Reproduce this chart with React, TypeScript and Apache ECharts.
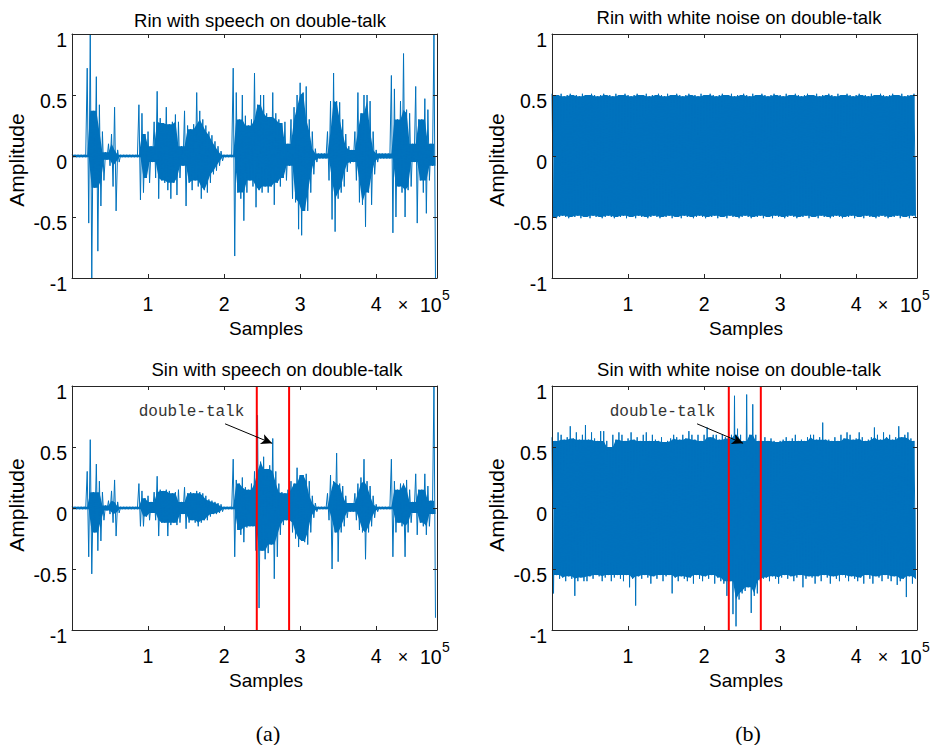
import React, { useEffect, useRef } from "react";
import * as echarts from "echarts";

// ---------- data (peak envelopes per 4000-sample bin) ----------
const BIN = 4000;
const X_MAX = 480000;
const X_INTERVAL = 100000;

const rinSpeechHi = [
  0.01, 0.01, 0.01, 0.01, 0.01, 0.72, 1.0, 0.37, 0.65, 0.42, 0.2, 0.03, 0.1, 0.18, 0.4, 0.05,
  0.01, 0.01, 0.01, 0.01, 0.01, 0.01, 0.42, 0.35, 0.18, 0.2, 0.08, 0.28, 0.53, 0.31, 0.27, 0.4,
  0.26, 0.28, 0.34, 0.28, 0.08, 0.37, 0.25, 0.22, 0.26, 0.52, 0.37, 0.3, 0.25, 0.2, 0.17, 0.12,
  0.08, 0.04, 0.01, 0.01, 0.01, 0.72, 0.52, 0.3, 0.5, 0.33, 0.25, 0.3, 0.68, 0.42, 0.5, 0.5,
  0.35, 0.32, 0.52, 0.35, 0.3, 0.27, 0.28, 0.1, 0.3, 0.4, 0.5, 0.6, 0.52, 0.57, 0.3, 0.2,
  0.06, 0.02, 0.02, 0.02, 0.2, 0.45, 0.68, 0.45, 0.44, 0.3, 0.18, 0.08, 0.05, 0.2, 0.52, 0.35,
  0.5, 0.5, 0.45, 0.2, 0.05, 0.02, 0.02, 0.02, 0.02, 0.66, 0.55, 0.3, 0.45, 0.84, 0.38, 0.35,
  0.1, 0.57, 0.3, 0.3, 0.47, 0.38, 0.1, 1.0,
];
const rinSpeechLo = [
  -0.01, -0.01, -0.01, -0.01, -0.01, -0.55, -1.0, -0.26, -0.78, -0.41, -0.2, -0.03, -0.08, -0.25, -0.45, -0.05,
  -0.01, -0.01, -0.01, -0.01, -0.01, -0.01, -0.36, -0.3, -0.18, -0.22, -0.05, -0.18, -0.35, -0.2, -0.22, -0.28,
  -0.35, -0.22, -0.32, -0.18, -0.08, -0.41, -0.22, -0.28, -0.2, -0.25, -0.35, -0.28, -0.3, -0.22, -0.15, -0.12,
  -0.08, -0.04, -0.01, -0.01, -0.01, -0.82, -0.3, -0.35, -0.53, -0.3, -0.2, -0.25, -0.42, -0.28, -0.3, -0.25,
  -0.3, -0.25, -0.4, -0.22, -0.25, -0.18, -0.2, -0.08, -0.35, -0.38, -0.6, -0.65, -0.45, -0.45, -0.3, -0.15,
  -0.05, -0.02, -0.02, -0.02, -0.2, -0.52, -0.62, -0.35, -0.3, -0.25, -0.13, -0.06, -0.05, -0.2, -0.38, -0.4,
  -0.58, -0.3, -0.4, -0.15, -0.05, -0.02, -0.02, -0.02, -0.02, -0.63, -0.5, -0.25, -0.3, -0.5, -0.28, -0.25,
  -0.05, -0.55, -0.2, -0.3, -0.47, -0.2, -0.08, -1.0,
];

const rinNoiseHi = [
  0.51, 0.5, 0.5, 0.51, 0.49, 0.5, 0.51, 0.5, 0.5, 0.49, 0.51, 0.5, 0.5, 0.51, 0.5, 0.49,
  0.5, 0.51, 0.5, 0.5, 0.49, 0.51, 0.5, 0.5, 0.51, 0.5, 0.49, 0.5, 0.51, 0.5, 0.5, 0.51,
  0.49, 0.5, 0.5, 0.51, 0.5, 0.49, 0.51, 0.5, 0.5, 0.51, 0.5, 0.49, 0.5, 0.51, 0.5, 0.5,
  0.49, 0.51, 0.5, 0.5, 0.51, 0.5, 0.49, 0.5, 0.51, 0.5, 0.5, 0.51, 0.49, 0.5, 0.5, 0.51,
  0.5, 0.49, 0.51, 0.5, 0.5, 0.51, 0.5, 0.49, 0.5, 0.51, 0.5, 0.5, 0.49, 0.51, 0.5, 0.5,
  0.51, 0.5, 0.49, 0.5, 0.51, 0.5, 0.5, 0.51, 0.49, 0.5, 0.5, 0.51, 0.5, 0.49, 0.51, 0.5,
  0.5, 0.51, 0.5, 0.49, 0.5, 0.51, 0.5, 0.5, 0.49, 0.51, 0.5, 0.5, 0.51, 0.5, 0.49, 0.5,
  0.51, 0.5, 0.5, 0.51, 0.49, 0.5, 0.5, 0.51,
];
const rinNoiseLo = [
  -0.5, -0.51, -0.5, -0.49, -0.5, -0.51, -0.5, -0.5, -0.49, -0.51, -0.5, -0.5, -0.51, -0.49, -0.5, -0.5,
  -0.51, -0.5, -0.49, -0.5, -0.51, -0.5, -0.5, -0.49, -0.51, -0.5, -0.5, -0.51, -0.49, -0.5, -0.5, -0.51,
  -0.5, -0.49, -0.5, -0.51, -0.5, -0.5, -0.49, -0.51, -0.5, -0.5, -0.51, -0.49, -0.5, -0.5, -0.51, -0.5,
  -0.49, -0.5, -0.51, -0.5, -0.5, -0.49, -0.51, -0.5, -0.5, -0.51, -0.49, -0.5, -0.5, -0.51, -0.5, -0.49,
  -0.5, -0.51, -0.5, -0.5, -0.49, -0.51, -0.5, -0.5, -0.51, -0.49, -0.5, -0.5, -0.51, -0.5, -0.49, -0.5,
  -0.51, -0.5, -0.5, -0.49, -0.51, -0.5, -0.5, -0.51, -0.49, -0.5, -0.5, -0.51, -0.5, -0.49, -0.5, -0.51,
  -0.5, -0.5, -0.49, -0.51, -0.5, -0.5, -0.51, -0.49, -0.5, -0.5, -0.51, -0.5, -0.49, -0.5, -0.51, -0.5,
  -0.5, -0.49, -0.51, -0.5, -0.5, -0.51, -0.49, -0.5,
];

const sinSpeechHi = [
  0.01, 0.01, 0.01, 0.01, 0.01, 0.3, 0.56, 0.13, 0.36, 0.22, 0.13, 0.02, 0.06, 0.14, 0.23, 0.05,
  0.01, 0.01, 0.01, 0.01, 0.01, 0.01, 0.2, 0.14, 0.08, 0.1, 0.05, 0.13, 0.26, 0.15, 0.14, 0.15,
  0.14, 0.12, 0.13, 0.15, 0.05, 0.17, 0.12, 0.13, 0.12, 0.14, 0.13, 0.12, 0.1, 0.07, 0.06, 0.05,
  0.04, 0.03, 0.01, 0.01, 0.01, 0.4, 0.23, 0.2, 0.25, 0.17, 0.15, 0.2, 0.3, 0.76, 0.38, 0.42,
  0.32, 0.35, 0.57, 0.3, 0.2, 0.13, 0.12, 0.15, 0.22, 0.2, 0.33, 0.27, 0.27, 0.28, 0.22, 0.1,
  0.04, 0.01, 0.01, 0.01, 0.12, 0.27, 0.22, 0.45, 0.2, 0.18, 0.1, 0.04, 0.04, 0.12, 0.2, 0.25,
  0.4, 0.22, 0.18, 0.1, 0.03, 0.01, 0.01, 0.01, 0.01, 0.4, 0.22, 0.15, 0.2, 0.2, 0.23, 0.15,
  0.05, 0.28, 0.15, 0.15, 0.28, 0.18, 0.06, 1.0,
];
const sinSpeechLo = [
  -0.01, -0.01, -0.01, -0.01, -0.01, -0.4, -0.54, -0.2, -0.35, -0.27, -0.1, -0.02, -0.05, -0.12, -0.23, -0.04,
  -0.01, -0.01, -0.01, -0.01, -0.01, -0.01, -0.15, -0.15, -0.07, -0.1, -0.04, -0.1, -0.23, -0.12, -0.12, -0.23,
  -0.14, -0.12, -0.14, -0.12, -0.05, -0.17, -0.12, -0.1, -0.12, -0.15, -0.12, -0.1, -0.1, -0.07, -0.05, -0.05,
  -0.04, -0.03, -0.01, -0.01, -0.01, -0.4, -0.18, -0.22, -0.28, -0.16, -0.15, -0.15, -0.35, -0.82, -0.35, -0.42,
  -0.37, -0.3, -0.58, -0.4, -0.22, -0.14, -0.1, -0.12, -0.2, -0.25, -0.32, -0.27, -0.28, -0.3, -0.2, -0.08,
  -0.03, -0.01, -0.01, -0.01, -0.1, -0.5, -0.2, -0.44, -0.2, -0.15, -0.08, -0.03, -0.03, -0.1, -0.18, -0.2,
  -0.42, -0.2, -0.15, -0.08, -0.03, -0.01, -0.01, -0.01, -0.01, -0.4, -0.2, -0.12, -0.15, -0.4, -0.2, -0.12,
  -0.04, -0.22, -0.12, -0.15, -0.22, -0.15, -0.05, -0.9,
];

const sinNoiseHi = [
  0.58, 0.55, 0.62, 0.6, 0.56, 0.58, 0.67, 0.57, 0.62, 0.56, 0.6, 0.68, 0.56, 0.62, 0.57, 0.55,
  0.63, 0.63, 0.55, 0.5, 0.6, 0.56, 0.62, 0.6, 0.55, 0.57, 0.62, 0.56, 0.58, 0.55, 0.6, 0.62,
  0.55, 0.6, 0.56, 0.55, 0.58, 0.54, 0.55, 0.57, 0.6, 0.58, 0.56, 0.6, 0.57, 0.63, 0.6, 0.56,
  0.6, 0.55, 0.6, 0.66, 0.58, 0.6, 0.6, 0.56, 0.6, 0.58, 0.57, 0.6, 0.92, 0.65, 0.6, 0.55,
  0.93, 0.6, 0.85, 0.6, 0.55, 0.55, 0.58, 0.55, 0.57, 0.55, 0.54, 0.55, 0.56, 0.58, 0.55, 0.57,
  0.6, 0.55, 0.56, 0.55, 0.58, 0.6, 0.6, 0.56, 0.58, 0.7, 0.56, 0.56, 0.55, 0.58, 0.55, 0.6,
  0.57, 0.62, 0.6, 0.56, 0.57, 0.62, 0.58, 0.55, 0.56, 0.58, 0.66, 0.6, 0.56, 0.62, 0.58, 0.6,
  0.56, 0.58, 0.67, 0.58, 0.6, 0.62, 0.57, 0.55,
];
const sinNoiseLo = [
  -0.7, -0.55, -0.58, -0.57, -0.6, -0.56, -0.58, -0.72, -0.6, -0.57, -0.6, -0.6, -0.56, -0.58, -0.55, -0.56,
  -0.6, -0.57, -0.55, -0.6, -0.57, -0.55, -0.58, -0.6, -0.55, -0.65, -0.58, -0.8, -0.56, -0.58, -0.55, -0.57,
  -0.62, -0.56, -0.58, -0.55, -0.6, -0.56, -0.55, -0.7, -0.57, -0.6, -0.56, -0.58, -0.6, -0.57, -0.62, -0.55,
  -0.58, -0.6, -0.56, -0.58, -0.55, -0.62, -0.57, -0.6, -0.62, -0.72, -0.6, -0.87, -0.97, -0.75, -0.7, -0.68,
  -0.65, -0.86, -0.72, -0.7, -0.6, -0.58, -0.57, -0.6, -0.56, -0.58, -0.62, -0.57, -0.55, -0.58, -0.56, -0.6,
  -0.57, -0.55, -0.65, -0.58, -0.56, -0.57, -0.62, -0.56, -0.6, -0.55, -0.57, -0.62, -0.56, -0.58, -0.6, -0.55,
  -0.57, -0.6, -0.56, -0.58, -0.6, -0.57, -0.62, -0.55, -0.58, -0.62, -0.56, -0.57, -0.6, -0.55, -0.58, -0.6,
  -0.56, -0.63, -0.6, -0.58, -0.73, -0.56, -0.62, -0.58,
];

// double-talk boundaries (samples)
const dtSpeech = [243000, 285500];
const dtNoise = [232500, 274600];
// annotation arrows: [startX, startY, endX, endY] in data units
const arrowSpeech = [201300, 0.69, 263200, 0.53];
const arrowNoise = [190800, 0.69, 251300, 0.53];

const titles = [
  "Rin with speech on double-talk",
  "Rin with white noise on double-talk",
  "Sin with speech on double-talk",
  "Sin with white noise on double-talk",
];

// ---------- layout ----------
const BLUE = "#0072BD";
const AXC = "#262626";
const FONT = '"Liberation Sans", Arial, Helvetica, sans-serif';
const GRIDS = [
  { left: 72, top: 34, width: 365, height: 244 },
  { left: 552, top: 34, width: 365, height: 244 },
  { left: 72, top: 386, width: 365, height: 244 },
  { left: 552, top: 386, width: 365, height: 244 },
];

// the trace itself: alternating positive/negative peaks of each bin
function zigzag(hi: number[], lo: number[]) {
  const out: [number, number][] = [];
  for (let i = 0; i < hi.length; i++) {
    out.push([i * BIN, hi[i]]);
    out.push([i * BIN + BIN / 2, lo[i]]);
  }
  return out;
}

// dense body of the trace: where neighbouring strokes overlap (smallest neighbouring peak)
function body(vals: number[], offset: number) {
  return vals.map((v, i) => {
    const a = vals[Math.max(0, i - 1)];
    const b = vals[Math.min(vals.length - 1, i + 1)];
    const m = v >= 0 ? Math.min(v, a, b) : Math.max(v, a, b);
    return [i * BIN + offset, m] as [number, number];
  });
}

function txt(x: number, y: number, text: string, size: number, extra: any = {}) {
  return {
    type: "text",
    x,
    y,
    silent: true,
    rotation: extra.rotation || 0,
    style: {
      text,
      fontSize: size,
      fontFamily: extra.fontFamily || FONT,
      fill: extra.fill || "#000",
      align: extra.align || "center",
      verticalAlign: "middle",
    },
  };
}

export default function App() {
  const ref = useRef<HTMLDivElement>(null);

  useEffect(() => {
    if (!ref.current) return;
    const chart = echarts.init(ref.current, undefined, { renderer: "svg" });

    const axisLine = { show: true, onZero: false, lineStyle: { color: AXC, width: 1 } };
    const tick = { show: true, inside: true, length: 4, lineStyle: { color: AXC, width: 1 } };

    const xAxis: any[] = [];
    const yAxis: any[] = [];
    GRIDS.forEach((_, g) => {
      xAxis.push({
        type: "value", gridIndex: g, min: 0, max: X_MAX, interval: X_INTERVAL, position: "bottom",
        axisLine, axisTick: tick, splitLine: { show: false }, z: 5,
        axisLabel: {
          margin: 16, fontSize: 19.5, fontFamily: FONT, color: "#000",
          formatter: (v: number) => (v === 0 || v % X_INTERVAL !== 0 ? "" : String(v / X_INTERVAL)),
        },
      });
      xAxis.push({
        type: "value", gridIndex: g, min: 0, max: X_MAX, interval: X_INTERVAL, position: "top",
        axisLine, axisTick: tick, splitLine: { show: false }, axisLabel: { show: false }, z: 5,
      });
      yAxis.push({
        type: "value", gridIndex: g, min: -1, max: 1, interval: 0.5, position: "left",
        axisLine, axisTick: tick, splitLine: { show: false }, z: 5,
        axisLabel: {
          margin: 5, fontSize: 19.5, fontFamily: FONT, color: "#000",
          verticalAlign: "top", lineHeight: 12,
        },
      });
      yAxis.push({
        type: "value", gridIndex: g, min: -1, max: 1, interval: 0.5, position: "right",
        axisLine, axisTick: tick, splitLine: { show: false }, axisLabel: { show: false }, z: 5,
      });
    });

    const envs = [
      [rinSpeechHi, rinSpeechLo],
      [rinNoiseHi, rinNoiseLo],
      [sinSpeechHi, sinSpeechLo],
      [sinNoiseHi, sinNoiseLo],
    ];

    const series: any[] = [];
    envs.forEach(([hi, lo], g) => {
      // filled body
      [body(hi, 0), body(lo, BIN / 2)].forEach((d) => {
        series.push({
          type: "line", xAxisIndex: 2 * g, yAxisIndex: 2 * g, data: d,
          symbol: "none", showSymbol: false, silent: true, z: 2,
          lineStyle: { width: 0, color: BLUE },
          areaStyle: { color: BLUE, opacity: 1, origin: 0 },
        });
      });
      // stroke trace
      series.push({
        type: "line", xAxisIndex: 2 * g, yAxisIndex: 2 * g, data: zigzag(hi, lo),
        symbol: "none", showSymbol: false, silent: true, z: 2,
        lineStyle: { color: BLUE, width: 1 },
      });
    });

    const addDT = (g: number, xs: number[], arrow: number[]) => {
      xs.forEach((x) => {
        series.push({
          type: "line", xAxisIndex: 2 * g, yAxisIndex: 2 * g, z: 3, silent: true,
          data: [[x, -1], [x, 1]], symbol: "none",
          lineStyle: { color: "#FF0000", width: 2 },
        });
      });
      series.push({
        type: "line", xAxisIndex: 2 * g, yAxisIndex: 2 * g, z: 4, silent: true, data: [],
        markLine: {
          silent: true,
          symbol: ["none", "arrow"],
          symbolSize: [8, 11],
          label: { show: false },
          lineStyle: { color: "#000", width: 1, type: "solid" },
          emphasis: { disabled: true },
          data: [[{ coord: [arrow[0], arrow[1]] }, { coord: [arrow[2], arrow[3]] }]],
        },
      });
    };
    addDT(2, dtSpeech, arrowSpeech);
    addDT(3, dtNoise, arrowNoise);

    const graphic: any[] = [
      txt(260, 20, titles[0], 18.5),
      txt(739, 17, titles[1], 18.5),
      txt(277, 369, titles[2], 18.5),
      txt(739, 369, titles[3], 18.5),
    ];
    const colX = [72, 552];
    const rowY = [0, 352];
    for (const dx of colX) {
      for (const dy of rowY) {
        const ox = dx - 72;
        graphic.push(txt(266 + ox, 328 + dy, "Samples", 19));
        graphic.push(txt(16 + ox, 160 + (dy ? 345 : 0), "Amplitude", 21, { rotation: Math.PI / 2 }));
        graphic.push(txt(403 + ox, 305 + dy, "\u00d7", 18));
        graphic.push(txt(420 + ox, 305 + dy, "10", 19.5, { align: "left" }));
        graphic.push(txt(442 + ox, 295 + dy, "5", 14, { align: "left" }));
      }
    }
    graphic.push(txt(191.5, 412, "double-talk", 16, { fontFamily: '"Liberation Mono", "DejaVu Sans Mono", monospace', fill: "#333" }));
    graphic.push(txt(662.5, 412, "double-talk", 16, { fontFamily: '"Liberation Mono", "DejaVu Sans Mono", monospace', fill: "#333" }));
    graphic.push(txt(268, 733, "(a)", 22, { fontFamily: '"Liberation Serif", "Times New Roman", serif' }));
    graphic.push(txt(748, 733, "(b)", 22, { fontFamily: '"Liberation Serif", "Times New Roman", serif' }));

    chart.setOption({
      animation: false,
      backgroundColor: "#fff",
      grid: GRIDS.map((g) => ({ ...g, containLabel: false })),
      xAxis,
      yAxis,
      series,
      graphic,
    });

    return () => chart.dispose();
  }, []);

  return (
    <div
      ref={ref}
      style={{ position: "fixed", left: 0, top: 0, width: 934, height: 745, background: "#fff" }}
    />
  );
}
